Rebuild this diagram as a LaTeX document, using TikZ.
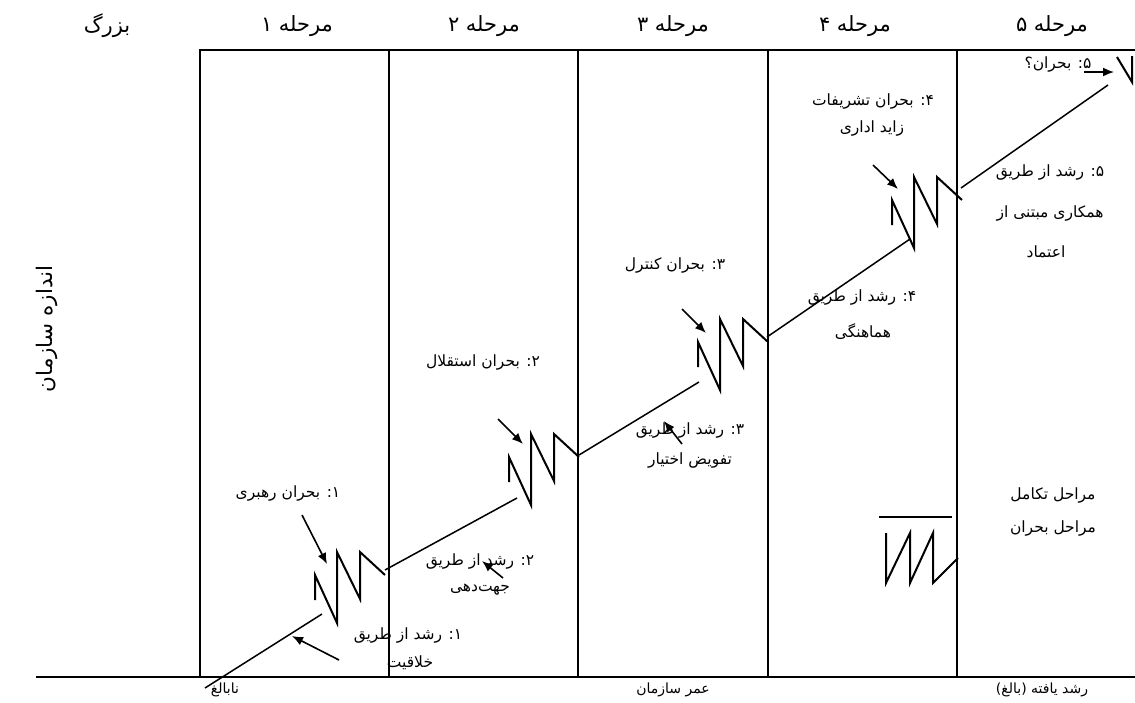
\documentclass[tikz,border=0pt]{standalone}
\usepackage{fontspec}
\usetikzlibrary{arrows.meta}
\TeXXeTstate=1
\newfontfamily\fafont[Script=Arabic]{DejaVu Sans}
\newcommand\rl[1]{\beginR #1\endR}

\begin{document}
\begin{tikzpicture}[x=1pt,y=-1pt,
  frame/.style={line width=1.2pt},
  growth/.style={line width=1.5pt},
  zigline/.style={line width=2pt, line join=miter},
  pointer/.style={line width=1.6pt,-{Latex[length=11pt,width=9pt]}},
  head/.style={font=\fafont\fontsize{21}{24}\selectfont, inner sep=0pt},
  lbl/.style={font=\fafont\fontsize{15.5}{18}\selectfont, inner sep=0pt},
  foot/.style={font=\fafont\fontsize{14}{16}\selectfont, inner sep=0pt},
  zig/.pic={\draw[zigline] (0,25) -- (0,0) -- (22,48) -- (22,-23) -- (45,24) -- (45,-23) -- (70,0);}
]
\useasboundingbox (0,0) rectangle (1135,702);

% stage headers
\node[head] (hB) at (107,26) {\rl{بزرگ}};
\node[head] (h1) at (297,26) {\rl{مرحله ۱}};
\node[head] (h2) at (484,26) {\rl{مرحله ۲}};
\node[head] (h3) at (673,26) {\rl{مرحله ۳}};
\node[head] (h4) at (855,26) {\rl{مرحله ۴}};
\node[head] (h5) at (1052,26) {\rl{مرحله ۵}};

% frame and stage columns
\draw[frame] (200,677) -- (200,50) -- (1135,50);
\foreach \x in {389,578,768,957} \draw[frame] (\x,50) -- (\x,677);
\draw[frame] (36,677) -- (1135,677);

% axis labels
\node[lbl, font=\fafont\fontsize{21.5}{25}\selectfont, rotate=90] (ylab) at (47,329) {\rl{اندازه سازمان}};
\node[foot] (f1) at (225,690) {\rl{نابالغ}};
\node[foot] (f2) at (673,690) {\rl{عمر سازمان}};
\node[foot] (f3) at (1042,690) {\rl{رشد یافته (بالغ)}};

% growth phases
\coordinate (g1s) at (205,688); \coordinate (g1e) at (322,614);
\coordinate (g2s) at (385,570); \coordinate (g2e) at (517,498);
\coordinate (g3s) at (579,455); \coordinate (g3e) at (699,382);
\coordinate (g4s) at (767,337); \coordinate (g4e) at (910,239);
\coordinate (g5s) at (961,188); \coordinate (g5e) at (1108,85);
\draw[growth] (g1s) -- (g1e);
\draw[growth] (g2s) -- (g2e);
\draw[growth] (g3s) -- (g3e);
\draw[growth] (g4s) -- (g4e);
\draw[growth] (g5s) -- (g5e);

% crisis zigzags
\pic at (315,575) {zig};
\pic at (509,457) {zig};
\pic at (698,342) {zig};
\pic at (892,200) {zig};
\draw[zigline] (1117,57) -- (1132,82) -- (1132,56);

% crisis pointers
\coordinate (a1s) at (302,515); \coordinate (a1e) at (327,564);
\coordinate (a2s) at (498,419); \coordinate (a2e) at (523,444);
\coordinate (a3s) at (682,309); \coordinate (a3e) at (706,333);
\coordinate (a4s) at (873,165); \coordinate (a4e) at (898,189);
\coordinate (a5s) at (1084,72); \coordinate (a5e) at (1114,72);
\draw[pointer] (a1s) -- (a1e);
\draw[pointer] (a2s) -- (a2e);
\draw[pointer] (a3s) -- (a3e);
\draw[pointer] (a4s) -- (a4e);
\draw[pointer] (a5s) -- (a5e);

% growth pointers
\coordinate (b1s) at (339,660); \coordinate (b1e) at (292,636);
\coordinate (b2s) at (503,578); \coordinate (b2e) at (482,561);
\coordinate (b3s) at (682,444); \coordinate (b3e) at (664,421);
\draw[pointer] (b1s) -- (b1e);
\draw[pointer] (b2s) -- (b2e);
\draw[pointer] (b3s) -- (b3e);

% phase labels
\node[lbl] (c1) at (288,493) {\rl{۱: بحران رهبری}};
\node[lbl] (r1a) at (408,635) {\rl{۱: رشد از طریق}};
\node[lbl] (r1b) at (410,663) {\rl{خلاقیت}};
\node[lbl] (c2) at (483,362) {\rl{۲: بحران استقلال}};
\node[lbl] (r2a) at (480,561) {\rl{۲: رشد از طریق}};
\node[lbl] (r2b) at (480,590) {\rl{جهت‌دهی}};
\node[lbl] (c3) at (675,265) {\rl{۳: بحران کنترل}};
\node[lbl] (r3a) at (690,430) {\rl{۳: رشد از طریق}};
\node[lbl] (r3b) at (690,460) {\rl{تفویض اختیار}};
\node[lbl] (c4a) at (873,102) {\rl{۴: بحران تشریفات}};
\node[lbl] (c4b) at (872,128) {\rl{زاید اداری}};
\node[lbl] (r4a) at (862,298) {\rl{۴: رشد از طریق}};
\node[lbl] (r4b) at (863,332) {\rl{هماهنگی}};
\node[lbl] (c5) at (1058,65) {\rl{۵: بحران؟}};
\node[lbl] (r5a) at (1050,173) {\rl{۵: رشد از طریق}};
\node[lbl] (r5b) at (1050,213) {\rl{همکاری مبتنی از}};
\node[lbl] (r5c) at (1046,252) {\rl{اعتماد}};

% legend
\draw[zigline] (879,517) -- (952,517);
\draw[zigline] (886,533) -- (886,583) -- (910,533) -- (910,583) -- (933,533) -- (933,583) -- (958,558);
\node[lbl] (k1) at (1053,495) {\rl{مراحل تکامل}};
\node[lbl] (k2) at (1053,528) {\rl{مراحل بحران}};
\end{tikzpicture}
\end{document}
